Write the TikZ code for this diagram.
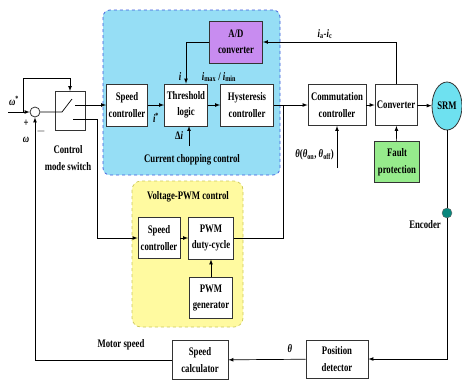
\documentclass[tikz,border=0pt]{standalone}
\usepackage{fontspec}
\setmainfont{Liberation Serif}[FakeStretch=0.76]
\usepackage{tikz}
\usetikzlibrary{arrows}
\usetikzlibrary{shapes.geometric}

\definecolor{ccblue}{RGB}{150,222,245}
\definecolor{ccedge}{RGB}{60,90,220}
\definecolor{vpyel}{RGB}{255,250,160}
\definecolor{vpedge}{RGB}{205,200,90}
\definecolor{adpurple}{RGB}{200,140,240}
\definecolor{fpgreen}{RGB}{150,235,140}
\definecolor{srmcyan}{RGB}{110,225,240}
\definecolor{encteal}{RGB}{10,135,125}

\begin{document}
\begin{tikzpicture}[x=1pt, y=-1pt,
  font=\bfseries\fontsize{11.5}{16.5}\selectfont,
  blk/.style={draw=black!80, line width=0.8pt, fill=white, align=center,
              inner sep=1pt},
  lbl/.style={inner sep=1pt},
  conn/.style={line width=0.7pt, -latex},
  wire/.style={line width=0.7pt}]

\useasboundingbox (0,0) rectangle (462,381);

% control regions
\draw[dashed, ccedge, fill=ccblue, line width=0.7pt, rounded corners=7]
  (103,10) rectangle (280,175);
\draw[dashed, vpedge, fill=vpyel, line width=0.7pt, rounded corners=9]
  (132,181) rectangle (243,327);

% current chopping control
\node[blk, minimum width=41, minimum height=42] (sc1) at (127,105) {Speed\\controller};
\node[blk, minimum width=43, minimum height=42] (thr) at (186,105) {Threshold\\logic};
\node[blk, minimum width=53, minimum height=42] (hys) at (247,105) {Hysteresis\\controller};
\node[blk, fill=adpurple, minimum width=53, minimum height=42] (ad) at (236,42) {A/D\\converter};
\node[lbl] (ccl) at (192,160) {Current chopping control};

% voltage-PWM control
\node[lbl] (vpl) at (188,197) {Voltage-PWM control};
\node[blk, minimum width=42, minimum height=41] (sc2) at (159,238) {Speed\\controller};
\node[blk, minimum width=45, minimum height=42] (pwmd) at (211,238) {PWM\\duty-cycle};
\node[blk, minimum width=43, minimum height=41] (pwmg) at (211,298) {PWM\\generator};

% power stage
\node[blk, minimum width=58, minimum height=41] (com) at (337,105) {Commutation\\controller};
\node[blk, minimum width=42, minimum height=41] (conv) at (396,105) {Converter};
\node[blk, fill=fpgreen, minimum width=45, minimum height=41] (fault) at (397,162) {Fault\\protection};
\node[draw=black!80, line width=0.8pt, fill=srmcyan, ellipse, minimum width=30,
      minimum height=48, inner sep=0pt] (srm) at (447,106) {SRM};
\node[draw=black!60, fill=encteal, circle, minimum size=10, inner sep=0pt] (enc) at (447,213) {};
\node[lbl, anchor=east] (encl) at (442,225) {Encoder};

% feedback path
\node[blk, minimum width=62, minimum height=38] (posd) at (337,359) {Position\\detector};
\node[blk, minimum width=56, minimum height=39] (scal) at (200,360) {Speed\\calculator};

% input side
\node[draw=black!80, line width=0.8pt, circle, minimum size=10, inner sep=0pt] (sum) at (35,112) {};
\node[draw=black!80, line width=0.8pt, minimum width=30, minimum height=39] (sw) at (70,111) {};
\node[lbl, align=center] (swl) at (68,158) {Control\\mode switch};
\coordinate (in) at (8,112);
\coordinate (br) at (23,112);

% labels
\node[lbl] (wref) at (14,101) {\textit{ω}\textsuperscript{*}};
\node[lbl] (plus) at (26,123) {+};
\node[lbl] (wfb) at (26,140) {\textit{ω}};
\node[lbl] (minus) at (41,131) {$-$};
\node[lbl] (istar) at (156,118) {\textit{i}\textsuperscript{*}};
\node[lbl] (imeas) at (180,77) {\textit{i}};
\node[lbl] (ilim) at (219,77) {\textit{i}\textsubscript{max} / \textit{i}\textsubscript{min}};
\node[lbl] (dil) at (179,136) {Δ\textit{i}};
\node[lbl] (iac) at (325,34) {\textit{i}\textsubscript{a}-\textit{i}\textsubscript{c}};
\node[lbl, anchor=east] (thl) at (335,155) {\textit{θ}(\textit{θ}\textsubscript{on}, \textit{θ}\textsubscript{off})};
\node[lbl] (thp) at (290,349) {\textit{θ}};
\node[lbl] (msl) at (121,345) {Motor speed};

% connectors
\draw[conn] (in) -- (sum);
\draw[conn] (br) -- (23,78) -| (sw.north);
\draw[wire] (sum) -- (62,112) -- (72,99);
\draw[conn] (75,105) -- (sc1.west);
\draw[conn] (73,119) -- (97,119) -- (97,238) -- (sc2.west);
\draw[conn] (sc1) -- (thr);
\draw[conn] (thr) -- (hys);
\draw[conn] (hys) -- (com);
\draw[wire] (pwmd.east) -- (283,238) -- (283,105);
\draw[conn] (com) -- (conv);
\draw[conn] (conv) -- (srm);
\draw[conn] (fault) -- (conv);
\draw[conn] (337,168) -- (com.south);
\draw[conn] (conv.north) -- (396,42) -- (ad.east);
\draw[conn] (ad.west) -- (186,42) -- (thr.north);
\draw[conn] (189,146) -- (189,126);
\draw[wire] (srm.south) -- (enc.north);
\draw[conn] (enc.south) -- (447,359) -- (posd.east);
\draw[conn] (posd) -- (scal);
\draw[conn] (scal.west) -- (35,360) -- (sum.south);
\draw[conn] (sc2) -- (pwmd);
\draw[conn] (pwmg) -- (pwmd);

\end{tikzpicture}
\end{document}
